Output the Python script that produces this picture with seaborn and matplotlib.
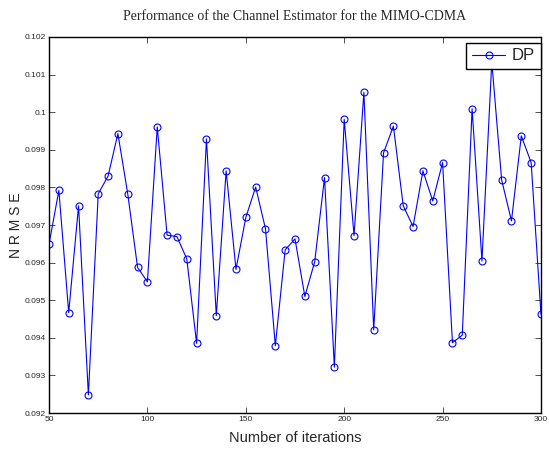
import matplotlib
matplotlib.use("Agg")
import matplotlib.pyplot as plt
import seaborn as sns
import pandas as pd
from matplotlib.ticker import FixedLocator, FixedFormatter

iterations = list(range(50, 301, 5))
nrmse = [0.09649, 0.09792, 0.09467, 0.09751, 0.09248, 0.09783, 0.09830, 0.09943,
         0.09783, 0.09587, 0.09549, 0.09961, 0.09673, 0.09669, 0.09610, 0.09385,
         0.09929, 0.09459, 0.09844, 0.09582, 0.09720, 0.09801, 0.09690, 0.09379,
         0.09634, 0.09663, 0.09510, 0.09602, 0.09826, 0.09322, 0.09981, 0.09672,
         0.10053, 0.09421, 0.09892, 0.09963, 0.09751, 0.09696, 0.09844, 0.09764,
         0.09866, 0.09387, 0.09407, 0.10009, 0.09604, 0.10134, 0.09820, 0.09711,
         0.09937, 0.09866, 0.09462]
series_name = "DP"
x_ticks = [50, 100, 150, 200, 250, 300]
y_ticks = [0.092, 0.093, 0.094, 0.095, 0.096, 0.097, 0.098, 0.099, 0.100, 0.101, 0.102]
y_tick_labels = ["0.092", "0.093", "0.094", "0.095", "0.096", "0.097", "0.098",
                 "0.099", "0.1", "0.101", "0.102"]

df = pd.DataFrame({"iter": iterations, "nrmse": nrmse, "series": series_name})

sns.set_style("white")
plt.rcParams['font.family'] = ['Liberation Sans Narrow', 'Liberation Sans', 'DejaVu Sans']

fig = plt.figure(figsize=(5.49, 4.59), dpi=100)
ax = fig.add_axes([0.0893, 0.1002, 0.8961, 0.8192])

sns.lineplot(data=df, x="iter", y="nrmse", ax=ax, color="#0000ff", linewidth=0.8,
             marker="o", markersize=5, markerfacecolor="none", markeredgecolor="#0000ff",
             markeredgewidth=0.8, label=series_name)

ax.set_xlim(50, 300)
ax.set_ylim(0.092, 0.102)
ax.xaxis.set_major_locator(FixedLocator(x_ticks))
ax.set_xticklabels([str(v) for v in x_ticks])
ax.yaxis.set_major_locator(FixedLocator(y_ticks))
ax.yaxis.set_major_formatter(FixedFormatter(y_tick_labels))
ax.tick_params(direction="in", length=4, width=0.6, labelsize=6, pad=2,
               top=True, right=True, bottom=True, left=True, color="#333333")

for s in ax.spines.values():
    s.set_color("black")
    s.set_linewidth(1.0)

ax.set_xlabel("Number of iterations", fontsize=10.5, labelpad=6)
ax.set_ylabel("N R M S E", fontsize=10)
ax.yaxis.set_label_coords(-0.052, 0.5)
ax.set_title("Performance of the Channel Estimator for the MIMO-CDMA",
             fontsize=10, family=['Liberation Serif', 'DejaVu Serif'], pad=12)

leg = ax.legend(loc="upper right", bbox_to_anchor=(1.0, 0.985), fontsize=12,
                frameon=True, fancybox=False, borderaxespad=0.0,
                handlelength=2.0, handletextpad=0.4, borderpad=0.35)
leg.get_frame().set_edgecolor("black")
leg.get_frame().set_linewidth(1.0)
leg.get_frame().set_alpha(1.0)

fig.savefig("out.png", dpi=100, facecolor="white")
